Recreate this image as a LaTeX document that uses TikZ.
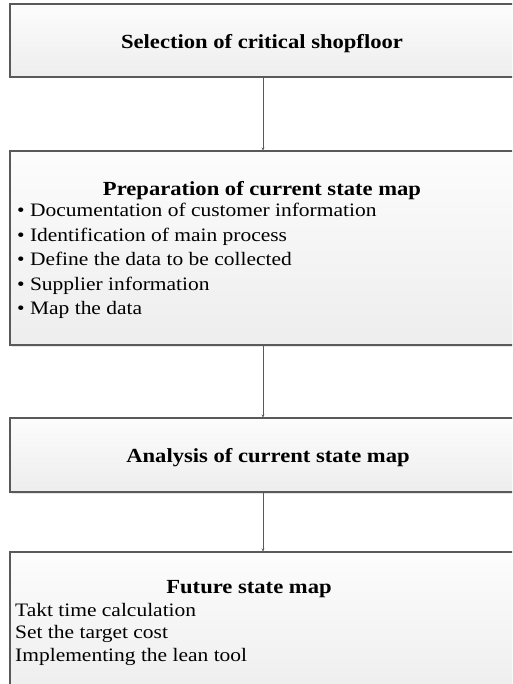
\documentclass[tikz,border=0pt]{standalone}
\usepackage{fontspec}
\setmainfont{Liberation Serif}[FakeStretch=1.13]
\usetikzlibrary{positioning}
\usetikzlibrary{arrows.meta}
\usetikzlibrary{shadows}

\tikzset{
    stagebox/.style={draw=black!65, line width=1.1pt, top color=gray!2, bottom color=gray!14,
        minimum width=506pt, inner sep=0pt,
        drop shadow={shadow xshift=1.5pt, shadow yshift=-1.5pt, opacity=0.2}},
    stagetitle/.style={font=\fontsize{20}{24}\selectfont\bfseries, inner sep=0pt},
    stagelist/.style={font=\fontsize{19}{24.5}\selectfont, align=left, inner sep=0pt, anchor=west},
    flow/.style={-{Stealth[length=3pt,width=3pt]}, black!65, line width=0.9pt}
}

\begin{document}
\begin{tikzpicture}[x=1pt, y=-1pt]
    \useasboundingbox (0,0) rectangle (512,684);
    \clip (0,0) rectangle (512,684);

    % the four stages
    \node[stagebox, minimum height=73pt] (sel) at (263, 40.5) {};
    \node[stagebox, minimum height=194pt] (prep) at (263, 248) {};
    \node[stagebox, minimum height=74pt] (anal) at (263, 455) {};
    \node[stagebox, minimum height=148pt] (fut) at (263, 626) {};

    \node[stagetitle] (seltitle) at (262, 43.5) {Selection of critical shopfloor};

    \node[stagetitle] (preptitle) at (262, 190.5) {Preparation of current state map};
    \node[stagelist] (preplist) at (17, 261) {\textbullet\ Documentation of customer information\\
        \textbullet\ Identification of main process\\
        \textbullet\ Define the data to be collected\\
        \textbullet\ Supplier information\\
        \textbullet\ Map the data};

    \node[stagetitle] (analtitle) at (268, 457.5) {Analysis of current state map};

    \node[stagetitle] (futtitle) at (249, 589.5) {Future state map};
    \node[stagelist, font=\fontsize{19}{22.5}\selectfont] (futlist) at (15, 634) {Takt time calculation\\
        Set the target cost\\
        Implementing the lean tool};

    % connectors
    \draw[flow] (sel) -- (prep);
    \draw[flow] (prep) -- (anal);
    \draw[flow] (anal) -- (fut);
\end{tikzpicture}
\end{document}
